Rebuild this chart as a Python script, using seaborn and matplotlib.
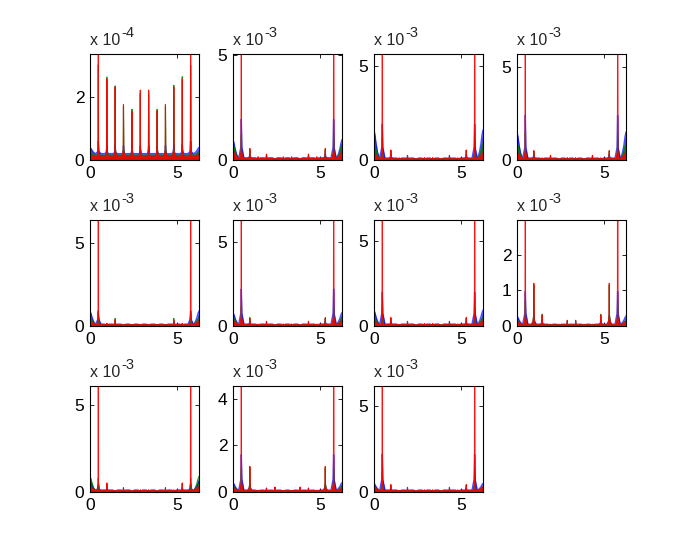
import numpy as np
import matplotlib
matplotlib.use("Agg")
import matplotlib.pyplot as plt
import seaborn as sns

# ---------------- data (display units, i.e. value / 10**exponent) ----------------
peak_x = [0.48, 0.97, 1.45, 1.93, 2.42, 2.90, 3.38, 3.87, 4.35, 4.83, 5.32, 5.80]

exponents = [-4, -3, -3, -3, -3, -3, -3, -3, -3, -3, -3]
y_max = [3.35, 5.05, 5.62, 5.68, 6.38, 6.30, 6.24, 2.98, 6.10, 4.55, 6.17]
y_ticks = [[0, 2], [0, 5], [0, 5], [0, 5], [0, 5], [0, 5], [0, 5], [0, 1, 2], [0, 5], [0, 2, 4], [0, 5]]
x_ticks = [0, 5]

red_peaks = [
    [4.50, 2.55, 2.30, 1.75, 1.52, 2.21, 2.21, 1.55, 1.76, 2.30, 2.55, 4.50],
    [9.00, 0.55, 0.15, 0.28, 0.05, 0.15, 0.15, 0.05, 0.28, 0.15, 0.55, 9.00],
    [9.00, 0.53, 0.10, 0.25, 0.05, 0.12, 0.12, 0.05, 0.25, 0.10, 0.53, 9.00],
    [9.00, 0.50, 0.10, 0.25, 0.05, 0.12, 0.12, 0.05, 0.25, 0.10, 0.50, 9.00],
    [9.00, 0.15, 0.35, 0.10, 0.08, 0.10, 0.10, 0.08, 0.10, 0.35, 0.15, 9.00],
    [9.00, 0.45, 0.10, 0.25, 0.04, 0.12, 0.12, 0.04, 0.25, 0.10, 0.45, 9.00],
    [9.00, 0.50, 0.08, 0.26, 0.04, 0.14, 0.14, 0.04, 0.26, 0.12, 0.50, 9.00],
    [9.00, 1.20, 0.30, 0.03, 0.03, 0.16, 0.16, 0.03, 0.03, 0.30, 1.20, 9.00],
    [9.00, 0.52, 0.08, 0.25, 0.04, 0.12, 0.12, 0.04, 0.25, 0.12, 0.52, 9.00],
    [9.00, 1.10, 0.07, 0.17, 0.21, 0.05, 0.05, 0.21, 0.17, 0.07, 1.10, 9.00],
    [9.00, 0.43, 0.08, 0.27, 0.04, 0.12, 0.12, 0.04, 0.27, 0.12, 0.43, 9.00],
]
green_peaks = [
    [3.00, 2.62, 2.34, 1.70, 1.60, 2.10, 2.10, 1.60, 1.70, 2.36, 2.63, 3.00],
    [1.20, 0.50, 0.12, 0.25, 0.04, 0.12, 0.12, 0.04, 0.25, 0.12, 0.50, 1.20],
    [1.20, 0.50, 0.09, 0.24, 0.04, 0.10, 0.10, 0.04, 0.24, 0.09, 0.50, 1.20],
    [1.40, 0.48, 0.09, 0.24, 0.04, 0.10, 0.10, 0.04, 0.24, 0.09, 0.48, 1.40],
    [0.80, 0.14, 0.45, 0.09, 0.07, 0.09, 0.09, 0.07, 0.09, 0.45, 0.14, 0.80],
    [1.20, 0.50, 0.09, 0.28, 0.04, 0.10, 0.10, 0.04, 0.28, 0.09, 0.50, 1.20],
    [1.20, 0.46, 0.07, 0.28, 0.04, 0.12, 0.12, 0.04, 0.28, 0.10, 0.46, 1.20],
    [0.70, 1.15, 0.33, 0.03, 0.03, 0.15, 0.15, 0.03, 0.03, 0.33, 1.15, 0.70],
    [0.80, 0.48, 0.07, 0.23, 0.04, 0.11, 0.11, 0.04, 0.23, 0.11, 0.48, 0.80],
    [1.00, 1.05, 0.06, 0.16, 0.20, 0.05, 0.05, 0.20, 0.16, 0.06, 1.05, 1.00],
    [1.20, 0.40, 0.07, 0.27, 0.04, 0.11, 0.11, 0.04, 0.27, 0.11, 0.40, 1.20],
]
blue_peaks = [
    [0.60, 0.50, 0.50, 0.45, 0.45, 0.45, 0.45, 0.45, 0.45, 0.50, 0.50, 0.60],
    [1.94, 0.30, 0.12, 0.17, 0.08, 0.10, 0.10, 0.08, 0.17, 0.12, 0.30, 1.94],
    [1.90, 0.30, 0.10, 0.16, 0.08, 0.09, 0.09, 0.08, 0.16, 0.10, 0.30, 1.90],
    [2.40, 0.30, 0.10, 0.16, 0.08, 0.09, 0.09, 0.08, 0.16, 0.10, 0.30, 2.40],
    [0.90, 0.14, 0.20, 0.09, 0.08, 0.09, 0.09, 0.08, 0.09, 0.20, 0.14, 0.90],
    [2.20, 0.28, 0.10, 0.16, 0.07, 0.09, 0.09, 0.07, 0.16, 0.10, 0.28, 2.20],
    [2.00, 0.28, 0.09, 0.16, 0.07, 0.10, 0.10, 0.07, 0.16, 0.09, 0.28, 2.00],
    [0.97, 0.30, 0.15, 0.05, 0.05, 0.08, 0.08, 0.05, 0.05, 0.15, 0.30, 0.97],
    [0.40, 0.25, 0.08, 0.14, 0.07, 0.09, 0.09, 0.07, 0.14, 0.08, 0.25, 0.40],
    [1.60, 0.35, 0.07, 0.12, 0.13, 0.06, 0.06, 0.13, 0.12, 0.07, 0.35, 1.60],
    [2.20, 0.25, 0.08, 0.16, 0.07, 0.09, 0.09, 0.07, 0.16, 0.08, 0.25, 2.20],
]
# values at x = 0 and x = 2*pi (edges)
blue_edge = [0.40, 0.97, 1.60, 1.50, 0.90, 0.80, 0.93, 0.28, 0.60, 0.40, 0.50]
green_edge = [0.25, 0.74, 0.90, 0.90, 0.50, 0.50, 0.50, 0.15, 0.90, 0.25, 0.30]
red_edge = [0.15, 0.40, 0.40, 0.40, 0.30, 0.30, 0.30, 0.12, 0.30, 0.15, 0.30]
# noise-floor levels
blue_floor = [0.20, 0.10, 0.10, 0.10, 0.11, 0.11, 0.11, 0.05, 0.11, 0.08, 0.11]
green_floor = [0.14, 0.08, 0.08, 0.08, 0.09, 0.09, 0.09, 0.04, 0.09, 0.06, 0.09]
red_floor = [0.10, 0.07, 0.07, 0.07, 0.08, 0.08, 0.08, 0.035, 0.08, 0.06, 0.08]

# ---------------- styling ----------------
sns.set_style("ticks")
plt.rcParams['font.family'] = ['Liberation Sans', 'DejaVu Sans']

BLUE = '#0000ff'
GREEN = '#008000'
RED = '#ff0000'
TWO_PI = 2 * np.pi
EDGE_SHAPE = [(0.0, 1.0), (0.06, 0.8), (0.12, 0.5), (0.2, 0.22), (0.3, 0.0)]


def vertices(heights, edge, floor, ymax, wb, ws, frac, cap):
    xs, ys = [], []
    for dx, f in EDGE_SHAPE:
        xs.append(dx)
        ys.append(floor + (edge - floor) * f)
    for p, h in zip(peak_x, heights):
        sh = min(h * frac, cap * ymax)
        xs += [p - wb, p - ws, p, p + ws, p + wb]
        ys += [floor, sh, h, sh, floor]
    for dx, f in reversed(EDGE_SHAPE):
        xs.append(TWO_PI - dx)
        ys.append(floor + (edge - floor) * f)
    return np.array(xs), np.array(ys)


W, H = 692, 554
col_left = [90, 233, 374, 517]
row_top = [54, 220, 386]
aw, ah = 109, 106

fig = plt.figure(figsize=(W / 100, H / 100), dpi=100)
fig.patch.set_facecolor('white')

for i in range(11):
    r, c = divmod(i, 4)
    ax = fig.add_axes([col_left[c] / W, 1 - (row_top[r] + ah) / H, aw / W, ah / H])
    ymax = y_max[i]
    series = [
        (BLUE, blue_peaks[i], blue_edge[i], blue_floor[i], 0.15, 0.03, 0.45, 0.12, 0.7, 1.0),
        (GREEN, green_peaks[i], green_edge[i], green_floor[i], 0.07, 0.012, 0.3, 0.10, 0.9, 0.8),
        (RED, red_peaks[i], red_edge[i], red_floor[i], 0.07, 0.010, 0.2, 0.09, 0.92, 0.8),
    ]
    for color, hts, edge, floor, wb, ws, frac, cap, alpha, lw in series:
        xs, ys = vertices(hts, edge, floor, ymax, wb, ws, frac, cap)
        ax.fill_between(xs, 0, ys, color=color, alpha=alpha, lw=0)
        sns.lineplot(x=xs, y=ys, ax=ax, color=color, lw=lw, alpha=alpha,
                     sort=False, estimator=None)
    ax.set_xlim(0, TWO_PI)
    ax.set_ylim(0, ymax)
    ax.set_xticks(x_ticks)
    ax.set_yticks(y_ticks[i])
    ax.set_xticklabels([str(v) for v in x_ticks])
    ax.set_yticklabels([str(v) for v in y_ticks[i]])
    ax.tick_params(direction='in', top=True, right=True, length=3, width=0.6,
                   labelsize=12.5, pad=4, colors='black')
    for s in ax.spines.values():
        s.set_linewidth(0.8)
        s.set_color('black')
        s.set_visible(True)
    ax.set_xlabel('')
    ax.set_ylabel('')
    t1 = ax.text(0.0, 1.085, 'x 10', transform=ax.transAxes,
                 fontsize=11.5, ha='left', va='baseline')
    ax.annotate('%d' % exponents[i], xy=(1.0, 0.72), xycoords=t1,
                xytext=(0.5, 0), textcoords='offset points',
                fontsize=10.5, ha='left', va='baseline')

fig.savefig('out.png', dpi=100, facecolor='white')
